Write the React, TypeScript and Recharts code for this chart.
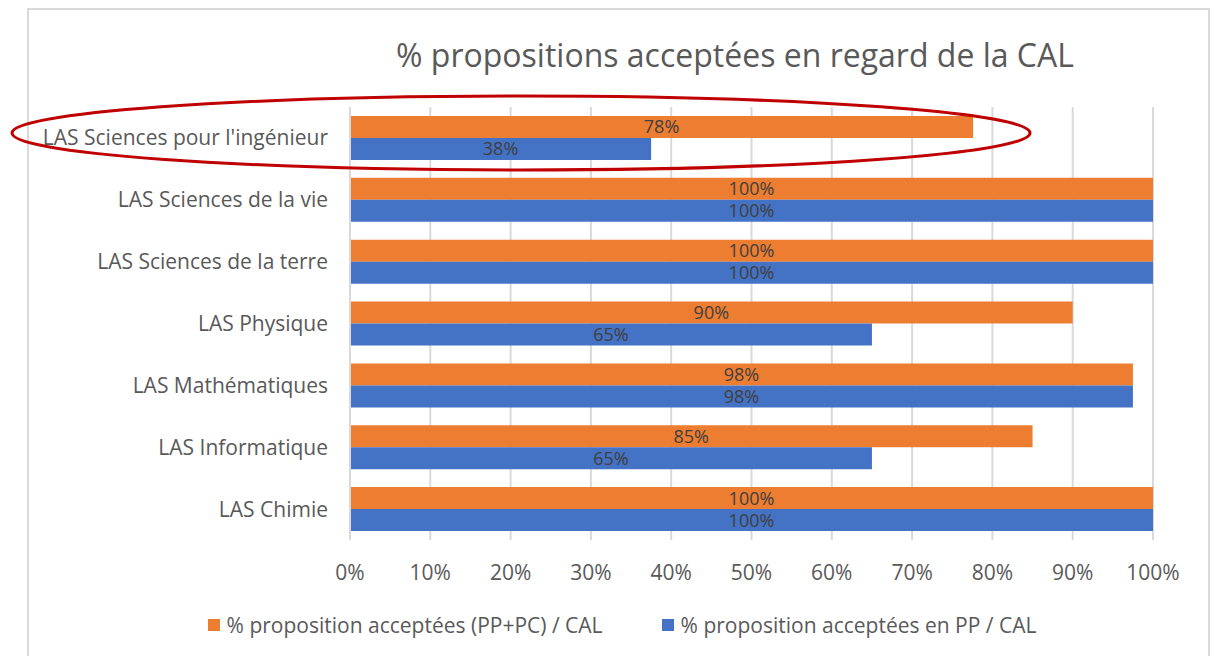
import { BarChart, Bar, XAxis, YAxis, CartesianGrid, LabelList } from "recharts";

const categories = [
  "LAS Sciences pour l'ingénieur",
  "LAS Sciences de la vie",
  "LAS Sciences de la terre",
  "LAS Physique",
  "LAS Mathématiques",
  "LAS Informatique",
  "LAS Chimie",
];
const ppPcValues = [77.6, 100, 100, 90, 97.5, 85, 100];
const ppValues = [37.5, 100, 100, 65, 97.5, 65, 100];
const xTicks = [0, 10, 20, 30, 40, 50, 60, 70, 80, 90, 100];

const SERIES = [
  { key: "ppPc", name: "% proposition acceptées (PP+PC) / CAL", color: "#ED7D31" },
  { key: "pp", name: "% proposition acceptées en PP / CAL", color: "#4472C4" },
];

const data = categories.map((name, i) => ({ name, ppPc: ppPcValues[i], pp: ppValues[i] }));

const FONT = "'Open Sans', sans-serif";

export default function App() {
  return (
    <div style={{ position: "absolute", left: 0, top: 0, width: 1218, height: 656, background: "#fff", overflow: "hidden" }}>
      {/* chart frame */}
      <div style={{ position: "absolute", left: 27, top: 8, width: 1183, height: 680, border: "2px solid #d9d9d9", boxSizing: "border-box" }} />
      <div style={{ position: "absolute", left: 0, top: 33, width: 1470, textAlign: "center", fontFamily: FONT, fontSize: 32, color: "#595959", whiteSpace: "nowrap" }}>
        % propositions acceptées en regard de la CAL
      </div>
      <BarChart
        width={1218}
        height={656}
        data={data}
        layout="vertical"
        margin={{ top: 107, right: 65, bottom: 86, left: 10 }}
        barCategoryGap="14.5%"
        barGap={0}
        style={{ position: "absolute", left: 0, top: 0 }}
      >
        <CartesianGrid horizontal={false} stroke="#d9d9d9" strokeWidth={2} />
        <XAxis
          type="number"
          domain={[0, 100]}
          ticks={xTicks}
          tickFormatter={(v) => `${v}%`}
          axisLine={false}
          tickLine={false}
          height={30}
          tickSize={0}
          tickMargin={25}
          tick={{ fill: "#595959", fontSize: 21, fontFamily: FONT }}
          interval={0}
        />
        <YAxis
          type="category"
          dataKey="name"
          width={340}
          axisLine={{ stroke: "#d9d9d9", strokeWidth: 2 }}
          tickLine={false}
          tickSize={0}
          tickMargin={22}
          tick={{ fill: "#595959", fontSize: 21, fontFamily: FONT }}
          interval={0}
        />
        {SERIES.map((s) => (
          <Bar key={s.key} dataKey={s.key} name={s.name} fill={s.color} isAnimationActive={false}>
            <LabelList
              dataKey={s.key}
              position="center"
              formatter={(v: any) => `${Math.round(Number(v))}%`}
              fill="#404040"
              fontSize={18}
              fontFamily={FONT}
            />
          </Bar>
        ))}
      </BarChart>
      {/* legend */}
      <div style={{ position: "absolute", left: 0, top: 611, width: 1218, paddingLeft: 26, boxSizing: "border-box", display: "flex", justifyContent: "center", gap: 59, fontFamily: FONT, fontSize: 21, color: "#595959" }}>
        {SERIES.map((s) => (
          <div key={s.key} style={{ display: "flex", alignItems: "center" }}>
            <span style={{ width: 12, height: 12, background: s.color, marginRight: 7, display: "inline-block" }} />
            <span>{s.name}</span>
          </div>
        ))}
      </div>
      {/* red highlight ellipse */}
      <svg width={1218} height={656} style={{ position: "absolute", left: 0, top: 0, pointerEvents: "none" }}>
        <ellipse cx={521} cy={133} rx={509} ry={37} fill="none" stroke="#C00000" strokeWidth={3} />
      </svg>
    </div>
  );
}
